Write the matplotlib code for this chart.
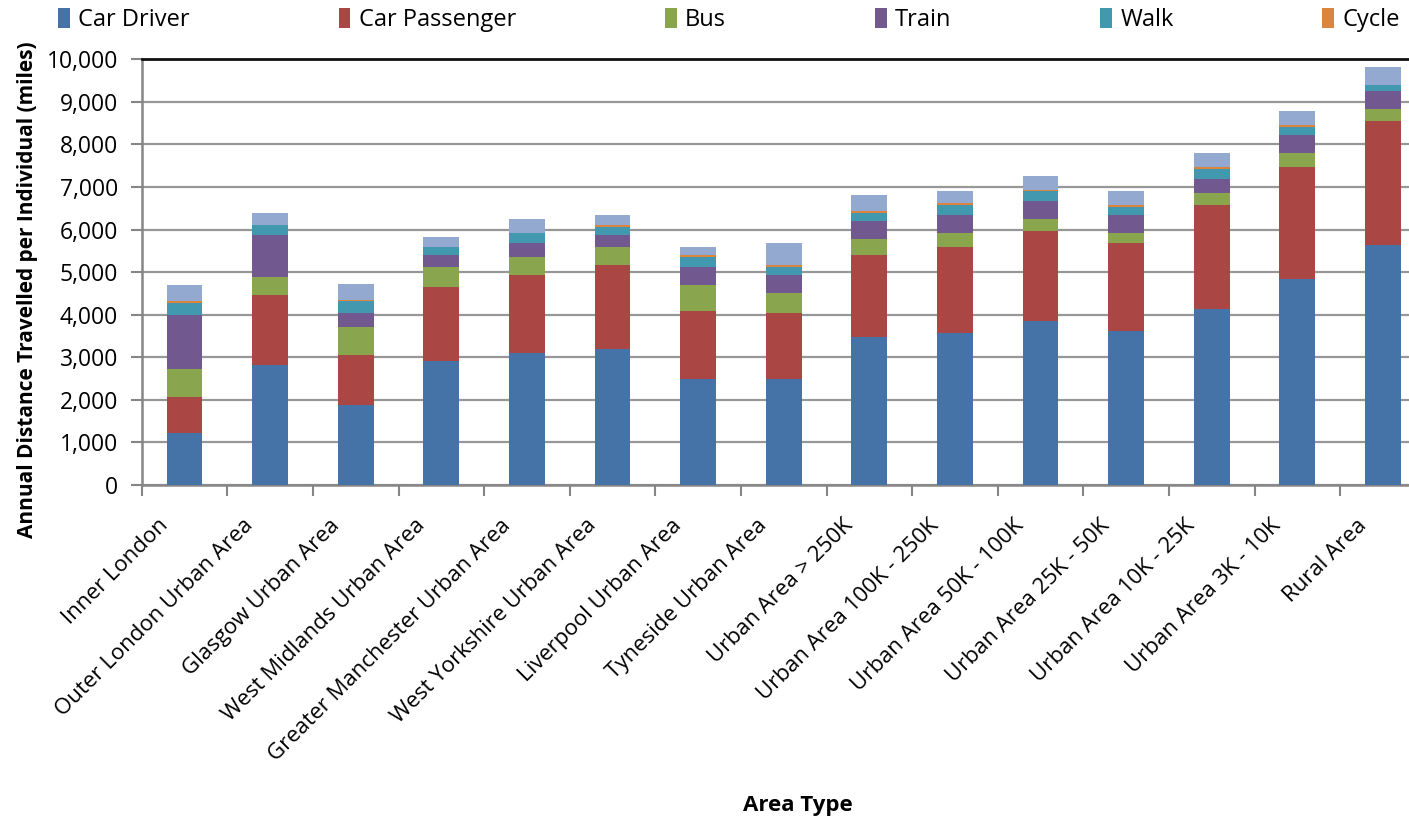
import matplotlib
matplotlib.use("Agg")
import matplotlib.pyplot as plt
import matplotlib.transforms as mtransforms
from matplotlib.ticker import FuncFormatter, FixedLocator
import numpy as np

plt.rcParams['font.family'] = ['Open Sans', 'DejaVu Sans']

categories = [
    "Inner London", "Outer London Urban Area", "Glasgow Urban Area",
    "West Midlands Urban Area", "Greater Manchester Urban Area",
    "West Yorkshire Urban Area", "Liverpool Urban Area", "Tyneside Urban Area",
    "Urban Area > 250K", "Urban Area 100K - 250K", "Urban Area 50K - 100K",
    "Urban Area 25K - 50K", "Urban Area 10K - 25K", "Urban Area 3K - 10K",
    "Rural Area",
]

car_driver = [1220, 2820, 1880, 2910, 3100, 3195, 2490, 2490, 3475, 3570, 3855, 3615, 4130, 4835, 5635]
car_passenger = [845, 1645, 1175, 1740, 1830, 1975, 1600, 1550, 1925, 2020, 2115, 2065, 2440, 2630, 2910]
bus = [660, 420, 660, 470, 425, 425, 610, 470, 375, 330, 280, 235, 280, 330, 280]
train = [1270, 985, 330, 280, 330, 280, 420, 420, 425, 425, 425, 425, 330, 425, 425]
walk = [280, 235, 280, 190, 235, 190, 235, 190, 190, 235, 235, 190, 235, 190, 140]
cycle = [45, 10, 10, 10, 10, 47, 47, 47, 47, 47, 10, 47, 47, 47, 10]
other = [380, 280, 375, 235, 330, 235, 190, 520, 375, 280, 330, 330, 330, 330, 420]

series = [
    ("Car Driver", car_driver, "#4572A7"),
    ("Car Passenger", car_passenger, "#AA4643"),
    ("Bus", bus, "#89A54E"),
    ("Train", train, "#71588F"),
    ("Walk", walk, "#4198AF"),
    ("Cycle", cycle, "#DB843D"),
    ("_other", other, "#93A9CF"),
]

W, H = 1409, 824
fig = plt.figure(figsize=(W / 100, H / 100), dpi=100)
ax = fig.add_axes([141.7 / W, 1 - 485 / H, (15 * 85.6) / W, (485 - 59.3) / H])

x = np.arange(len(categories))
bottom = np.zeros(len(categories))
handles = []
for name, vals, col in series:
    vals = np.asarray(vals, dtype=float)
    b = ax.bar(x, vals, width=0.42, bottom=bottom, color=col, label=name,
               zorder=3, linewidth=0)
    bottom += vals
    if not name.startswith("_"):
        handles.append(b)

ax.set_xlim(-0.5, len(categories) - 0.5)
ax.set_ylim(0, 10000)

grid_col = "#979797"
ax.set_yticks(np.arange(0, 10001, 1000))
ax.yaxis.set_major_formatter(FuncFormatter(lambda v, p: f"{int(v):,}"))
ax.yaxis.grid(True, color=grid_col, linewidth=1.6, zorder=0)
ax.set_axisbelow(True)

ax.spines['left'].set_color("#868686")
ax.spines['left'].set_linewidth(1.8)
ax.spines['bottom'].set_color("#868686")
ax.spines['bottom'].set_linewidth(1.8)
ax.spines['top'].set_color("#111111")
ax.spines['top'].set_linewidth(2.0)
ax.spines['right'].set_visible(False)

ax.tick_params(axis='y', direction='out', length=8, width=1.5, color="#868686",
               labelsize=16.5, pad=9)

# boundary tick marks between categories; labels drawn as rotated text
ax.set_xticks([])
ax.xaxis.set_minor_locator(FixedLocator(np.arange(-0.5, len(categories), 1.0)))
ax.tick_params(axis='x', which='minor', direction='out', length=8, width=1.5,
               color="#868686")

label_shift = mtransforms.ScaledTranslation(-0.27, -0.30, fig.dpi_scale_trans)
label_trans = ax.get_xaxis_transform() + label_shift
for xi, name in zip(x, categories):
    ax.text(xi, 0, name, transform=label_trans, rotation=45,
            rotation_mode='anchor', ha='right', va='top', fontsize=16)

fig.text(798 / W, 1 - 806 / H, "Area Type", fontsize=16, fontweight='bold',
         ha='center', va='center')
fig.text(28 / W, 1 - 290 / H, "Annual Distance Travelled per Individual (miles)",
         fontsize=15, fontweight='bold', rotation=90, ha='center', va='center')

fig.legend(handles=handles, labels=[s[0] for s in series[:6]],
           loc='center', bbox_to_anchor=(58 / W, 1 - 34 / H, (1400 - 58) / W, 28 / H),
           mode='expand', ncol=6, frameon=False, fontsize=17,
           handlelength=0.5, handleheight=0.95, handletextpad=0.35,
           borderaxespad=0, borderpad=0)

fig.savefig("out.png", dpi=100)
